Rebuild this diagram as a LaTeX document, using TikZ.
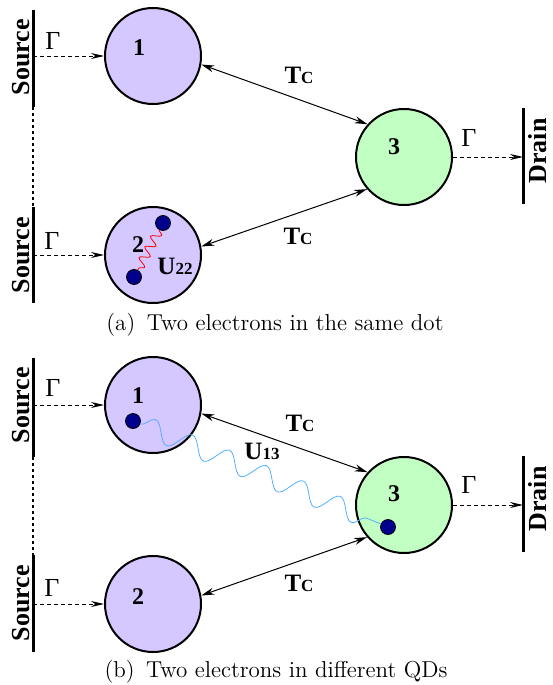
\documentclass[tikz,border=0pt]{standalone}
\usepackage{fontspec}
\usepackage{xcolor}
\usepackage{tikz}
\usetikzlibrary{arrows.meta, decorations.pathmorphing}
\newfontfamily\figfont{Liberation Serif}
\definecolor{dotpurple}{RGB}{213,199,255}
\definecolor{dotgreen}{RGB}{194,255,194}
\definecolor{electron}{RGB}{0,0,140}
\definecolor{wavyblue}{RGB}{85,175,255}
\newcommand\TClabel{{\fontsize{12.5}{14}\selectfont T}{\fontsize{8.5}{10}\selectfont C}}
\newcommand\Ulabel[1]{{\fontsize{12.5}{14}\selectfont U}{\fontsize{8.5}{10}\selectfont #1}}
\tikzset{
  qdot/.style={circle, draw=black, line width=1pt, minimum size=48pt, inner sep=0pt},
  elec/.style={circle, draw=black, fill=electron, line width=0.4pt, minimum size=7.5pt, inner sep=0pt},
  lead/.style={line width=1.5pt},
  leadgap/.style={line width=1pt, dash pattern=on 1.5pt off 1.5pt},
  tunnel/.style={{Stealth[length=6.5pt,width=3.5pt]}-{Stealth[length=6.5pt,width=3.5pt]}, line width=0.5pt},
  rate/.style={-{Stealth[length=6.5pt,width=3pt]}, dash pattern=on 2pt off 1.5pt, line width=0.5pt},
  coulomb/.style args={#1/#2}{decorate, decoration={snake, segment length=#1, amplitude=#2}, line width=0.4pt},
}

\begin{document}
\begin{tikzpicture}[x=0.5pt, y=-0.5pt,
  numlbl/.style={font=\figfont\bfseries\fontsize{12}{14}\selectfont, inner sep=0pt},
  leadlbl/.style={font=\figfont\bfseries\fontsize{13}{15}\selectfont, rotate=90, inner sep=0pt},
  ratelbl/.style={font=\figfont\fontsize{13}{15}\selectfont, inner sep=0pt},
  couplbl/.style={font=\figfont\bfseries, inner sep=0pt},
  caplbl/.style={font=\fontsize{11.5}{13}\selectfont, inner sep=0pt}]
\useasboundingbox (0,0) rectangle (552,685);

% (a) dots
\node[qdot, fill=dotpurple] (a1) at (153,56) {};
\node[qdot, fill=dotpurple] (a2) at (153,255) {};
\node[qdot, fill=dotgreen]  (a3) at (404,157) {};
\node[numlbl] (na1) at (139,48) {1};
\node[numlbl] (na2) at (138,245) {2};
\node[numlbl] (na3) at (394,147) {3};

% (a) leads
\draw[lead] (33,10) -- (33,107);
\draw[leadgap] (33,107) -- (33,207);
\draw[lead] (33,207) -- (33,303);
\draw[lead] (523,108) -- (523,204);
\node[leadlbl] (srca1) at (21,57) {Source};
\node[leadlbl] (srca2) at (21,255) {Source};
\node[leadlbl] (drna) at (538,151) {Drain};
\coordinate (sa1) at (33,56);
\coordinate (sa2) at (33,255);
\coordinate (da) at (523,157);

% (a) rates and tunnelling
\draw[rate] (sa1) -- (a1);
\draw[rate] (sa2) -- (a2);
\draw[rate] (a3) -- (da);
\node[ratelbl] (ga1) at (53,41) {Γ};
\node[ratelbl] (ga2) at (52,241) {Γ};
\node[ratelbl] (ga3) at (469,138) {Γ};
\draw[tunnel] (a1.-10) -- (a3.138);
\draw[tunnel] (a2.10) -- (a3.-139);
\node[couplbl] (ta1) at (299,75) {\TClabel};
\node[couplbl] (ta2) at (298,236) {\TClabel};

% (a) two electrons in dot 2
\node[elec] (ea1) at (163,223) {};
\node[elec] (ea2) at (134,277) {};
\draw[coulomb=6pt/2.4pt, red] (ea1) -- (ea2);
\node[couplbl] (ua) at (175,266) {\Ulabel{22}};
\node[caplbl] (capa) at (275,325) {(a)\enspace Two electrons in the same dot};

% (b) dots
\node[qdot, fill=dotpurple] (b1) at (153,405) {};
\node[qdot, fill=dotpurple] (b2) at (153,604) {};
\node[qdot, fill=dotgreen]  (b3) at (404,505) {};
\node[numlbl] (nb1) at (138,396) {1};
\node[numlbl] (nb2) at (138,597) {2};
\node[numlbl] (nb3) at (394,494) {3};

% (b) leads
\draw[lead] (33,358) -- (33,457);
\draw[leadgap] (33,457) -- (33,555);
\draw[lead] (33,555) -- (33,652);
\draw[lead] (523,456) -- (523,552);
\node[leadlbl] (srcb1) at (21,405) {Source};
\node[leadlbl] (srcb2) at (21,603) {Source};
\node[leadlbl] (drnb) at (538,499) {Drain};
\coordinate (sb1) at (33,405);
\coordinate (sb2) at (33,604);
\coordinate (db) at (523,505);

% (b) rates and tunnelling
\draw[rate] (sb1) -- (b1);
\draw[rate] (sb2) -- (b2);
\draw[rate] (b3) -- (db);
\node[ratelbl] (gb1) at (53,388) {Γ};
\node[ratelbl] (gb2) at (52,588) {Γ};
\node[ratelbl] (gb3) at (469,485) {Γ};
\draw[tunnel] (b1.-10) -- (b3.138);
\draw[tunnel] (b2.10) -- (b3.-139);
\node[couplbl] (tb1) at (300,423) {\TClabel};
\node[couplbl] (tb2) at (299,583) {\TClabel};

% (b) electrons in dots 1 and 3
\node[elec] (eb1) at (133,421) {};
\node[elec] (eb3) at (388,527) {};
\draw[coulomb=20pt/5pt, wavyblue] (eb1) -- (eb3);
\node[couplbl] (ub) at (262,451) {\Ulabel{13}};
\node[caplbl] (capb) at (276,672) {(b)\enspace Two electrons in different QDs};
\end{tikzpicture}
\end{document}
